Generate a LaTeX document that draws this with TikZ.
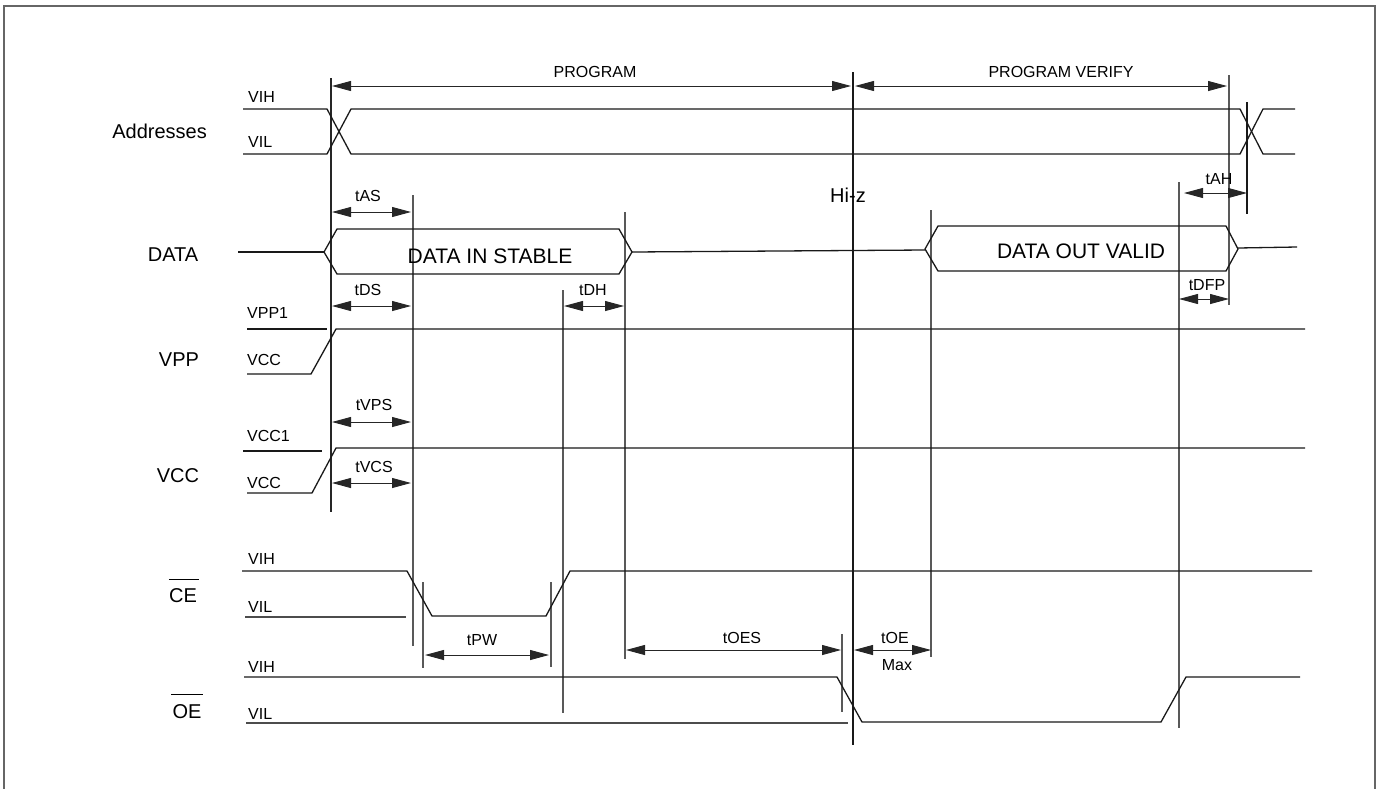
\documentclass[tikz,border=0pt]{standalone}
\usepackage{fontspec}
\setmainfont{Liberation Sans}
\usetikzlibrary{arrows.meta}
\begin{document}
\begin{tikzpicture}[x=1pt,y=-1pt,
  sig/.style={line width=1.3pt, black!90, line join=miter},
  vl/.style={line width=1.1pt, black!65},
  dimarrow/.style={line width=0.9pt, black!85, {Triangle[length=19pt,width=10pt]}-{Triangle[length=19pt,width=10pt]}},
  lbl/.style={font=\fontsize{16}{18}\selectfont, inner sep=0pt, anchor=base},
  lbll/.style={lbl, anchor=base west},
  signame/.style={font=\fontsize{20}{22}\selectfont, inner sep=0pt, anchor=base},
  boxtext/.style={font=\fontsize{21}{24}\selectfont, inner sep=0pt, anchor=base},
  framestyle/.style={line width=2pt, black!60}]
\useasboundingbox (0,0) rectangle (1380,788);
% frame
\draw[framestyle] (4,790) -- (4,6) -- (1375,6) -- (1375,790);

% signal names
\node[signame, anchor=base east] (nAddr) at (207,138) {Addresses};
\node[signame] (nData) at (173,261) {DATA};
\node[signame] (nVpp) at (179,366) {VPP};
\node[signame] (nVcc) at (178,482) {VCC};
\node[signame] (nCe) at (183,602) {CE};
\node[signame] (nOe) at (187,718) {OE};
\draw[line width=1pt] ([yshift=8.5pt]nCe.north west) -- ([yshift=8.5pt,xshift=2pt]nCe.north east);
\draw[line width=1pt] ([yshift=9pt,xshift=-1pt]nOe.north west) -- ([yshift=9pt,xshift=1pt]nOe.north east);

% level labels
\node[lbll] (lAvih) at (248,102) {VIH};
\node[lbll] (lAvil) at (248,147) {VIL};
\node[lbll] (lVpp1) at (247,318) {VPP1};
\node[lbll] (lVppL) at (247,365) {VCC};
\node[lbll] (lVcc1) at (247,441) {VCC1};
\node[lbll] (lVccL) at (247,488) {VCC};
\node[lbll] (lCvih) at (248,564) {VIH};
\node[lbll] (lCvil) at (248,612) {VIL};
\node[lbll] (lOvih) at (248,672) {VIH};
\node[lbll] (lOvil) at (248,719) {VIL};

% vertical reference lines
\draw[vl, black!85] (331,78) -- (331,512);
\draw[vl] (413,195) -- (413,646);
\draw[vl] (423,582) -- (423,668);
\draw[vl] (551,582) -- (551,667);
\draw[vl] (563,290) -- (563,713);
\draw[vl] (625,212) -- (625,659);
\draw[vl] (842,634) -- (842,712);
\draw[vl, black!90] (853,72) -- (853,745);
\draw[vl] (931,210) -- (931,657);
\draw[vl] (1179,182) -- (1179,728);
\draw[vl] (1229,75) -- (1229,305);
\draw[vl, black!90] (1247,102) -- (1247,214);

% Addresses
\draw[sig] (243,109) -- (327,109) -- (351,154) -- (1240,154) -- (1263,109) -- (1295,109);
\draw[sig] (243,154) -- (327,154) -- (351,109) -- (1240,109) -- (1263,154) -- (1295,154);

% DATA
\draw[sig] (238,252) -- (324,252);
\draw[sig] (324,252) -- (337,229) -- (619,229) -- (632,252) -- (619,274) -- (337,274) -- cycle;
\draw[sig] (632,252) -- (925,250);
\draw[sig] (925,249) -- (938,226) -- (1226,226) -- (1238,249) -- (1226,271) -- (938,271) -- cycle;
\draw[sig] (1238,248) -- (1297,247);
\node[boxtext] (tIn) at (490,263) {DATA IN STABLE};
\node[boxtext] (tOut) at (1081,258) {DATA OUT VALID};
\node[font=\fontsize{20}{22}\selectfont, inner sep=0pt, anchor=base] (hiz) at (848,202) {Hi-z};

% VPP
\draw[sig] (247,329) -- (327,329);
\draw[sig] (247,374) -- (311,374) -- (336,329) -- (1305,329);
% VCC
\draw[sig] (243,451) -- (322,451);
\draw[sig] (247,493) -- (312,493) -- (336,448) -- (1305,448);
% CE
\draw[sig] (242,571) -- (407,571) -- (432,616) -- (546,616) -- (570,571) -- (1312,571);
\draw[sig, black!70] (245,617) -- (406,617);
% OE
\draw[sig] (244,677) -- (837,677) -- (862,722) -- (1161,722) -- (1186,677) -- (1300,677);
\draw[sig, black!70] (246,723) -- (848,723);

% dimension arrows
\draw[dimarrow] (332,86) -- (851,86);
\node[lbl] (tProg) at (595,77) {PROGRAM};
\draw[dimarrow] (855,86) -- (1227,86);
\node[lbl] (tVer) at (1061,77) {PROGRAM VERIFY};

\draw[dimarrow] (332,212) -- (411,212);
\node[lbl] (tAS) at (368,201) {tAS};
\draw[dimarrow] (332,306) -- (411,306);
\node[lbl] (tDS) at (368,295) {tDS};
\draw[dimarrow] (564,306) -- (624,306);
\node[lbl] (tDH) at (593,295) {tDH};
\draw[dimarrow] (332,422) -- (411,422);
\node[lbl] (tVPS) at (374,410) {tVPS};
\draw[dimarrow] (332,483) -- (411,483);
\node[lbl] (tVCS) at (374,472) {tVCS};
\draw[dimarrow] (425,655) -- (549,655);
\node[lbl] (tPW) at (482,645) {tPW};
\draw[dimarrow] (626,650) -- (841,650);
\node[lbl] (tOES) at (742,643) {tOES};
\draw[dimarrow] (854,650) -- (931,650);
\node[lbl] (tOE) at (895,643) {tOE};
\node[lbl] (tMax) at (897,670) {Max};
\draw[dimarrow] (1184,193) -- (1247,193);
\node[lbl] (tAH) at (1219,184) {tAH};
\draw[dimarrow] (1179,299) -- (1229,299);
\node[lbl] (tDFP) at (1207,290) {tDFP};
\end{tikzpicture}
\end{document}
